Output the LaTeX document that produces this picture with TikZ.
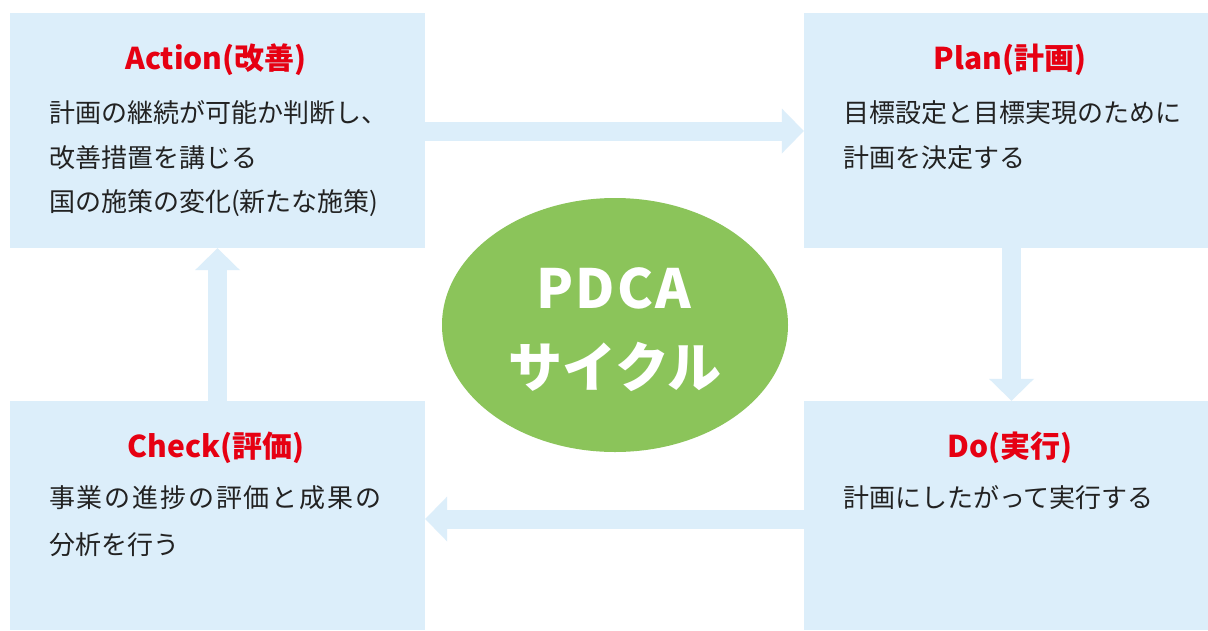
\documentclass[tikz,border=0pt]{standalone}
\usepackage{fontspec}
\setmainfont{Noto Sans CJK JP}
\usetikzlibrary{shapes.geometric,arrows.meta}
\definecolor{boxblue}{HTML}{DCEEFA}
\definecolor{pdcagreen}{HTML}{8BC45A}
\definecolor{titlered}{HTML}{E60012}
\definecolor{bodytext}{HTML}{222222}
\tikzset{
  stagebox/.style={rectangle, fill=boxblue, draw=none, inner sep=0pt},
  stagetitle/.style={text=titlered, font=\fontsize{30}{34}\selectfont\bfseries, inner sep=0pt, anchor=center},
  stagebody/.style={text=bodytext, font=\fontsize{26}{30}\selectfont, inner sep=0pt, anchor=west},
  flowarrow/.style={draw=boxblue, line width=19pt, -{Triangle[width=45pt,length=22pt,line width=0pt,fill=boxblue]}},
  centertext/.style={text=white, font=\fontsize{54}{60}\selectfont\bfseries, inner sep=0pt}
}
\begin{document}
\begin{tikzpicture}[x=1pt,y=-1pt]
\useasboundingbox[fill=white] (0,0) rectangle (1208,630);
% boxes
\node[stagebox, minimum width=415pt, minimum height=235pt] (act) at (217.5,130.5) {};
\node[stagebox, minimum width=404pt, minimum height=235pt] (plan) at (1006,130.5) {};
\node[stagebox, minimum width=415pt, minimum height=229pt] (chk) at (217.5,515.5) {};
\node[stagebox, minimum width=404pt, minimum height=229pt] (do) at (1006,515.5) {};
% arrows
\draw[flowarrow] (act.east |- 0,131) -- (plan.west |- 0,131);
\draw[flowarrow] (1011.5,0 |- plan.south) -- (1011.5,0 |- do.north);
\draw[flowarrow] (do.west |- 0,519) -- (chk.east |- 0,519);
\draw[flowarrow] (chk.north) -- (act.south);
% ellipse
\node[ellipse, fill=pdcagreen, minimum width=346pt, minimum height=254pt, inner sep=0pt] (pdca) at (615,325) {};
\node[centertext] (pdca1) at (614,288) {\addfontfeature{LetterSpace=4}PDCA};
\node[centertext] (pdca2) at (615,367) {サイクル};
% Action
\node[stagetitle] (actT) at (216,60) {Action(改善)};
\node[stagebody] (act1) at (49,113) {計画の継続が可能か判断し、};
\node[stagebody] (act2) at (49,158) {改善措置を講じる};
\node[stagebody] (act3) at (49,203) {国の施策の変化(新たな施策)};
% Plan
\node[stagetitle] (planT) at (1010,60) {Plan(計画)};
\node[stagebody] (plan1) at (843,113) {目標設定と目標実現のために};
\node[stagebody] (plan2) at (843,158) {計画を決定する};
% Check
\node[stagetitle] (chkT) at (216,448) {Check(評価)};
\node[stagebody] (chk1) at (49,498) {\addfontfeature{LetterSpace=7}事業の進捗の評価と成果の};
\node[stagebody] (chk2) at (49,545) {分析を行う};
% Do
\node[stagetitle] (doT) at (1010,448) {Do(実行)};
\node[stagebody] (do1) at (843,498) {計画にしたがって実行する};
\end{tikzpicture}
\end{document}
